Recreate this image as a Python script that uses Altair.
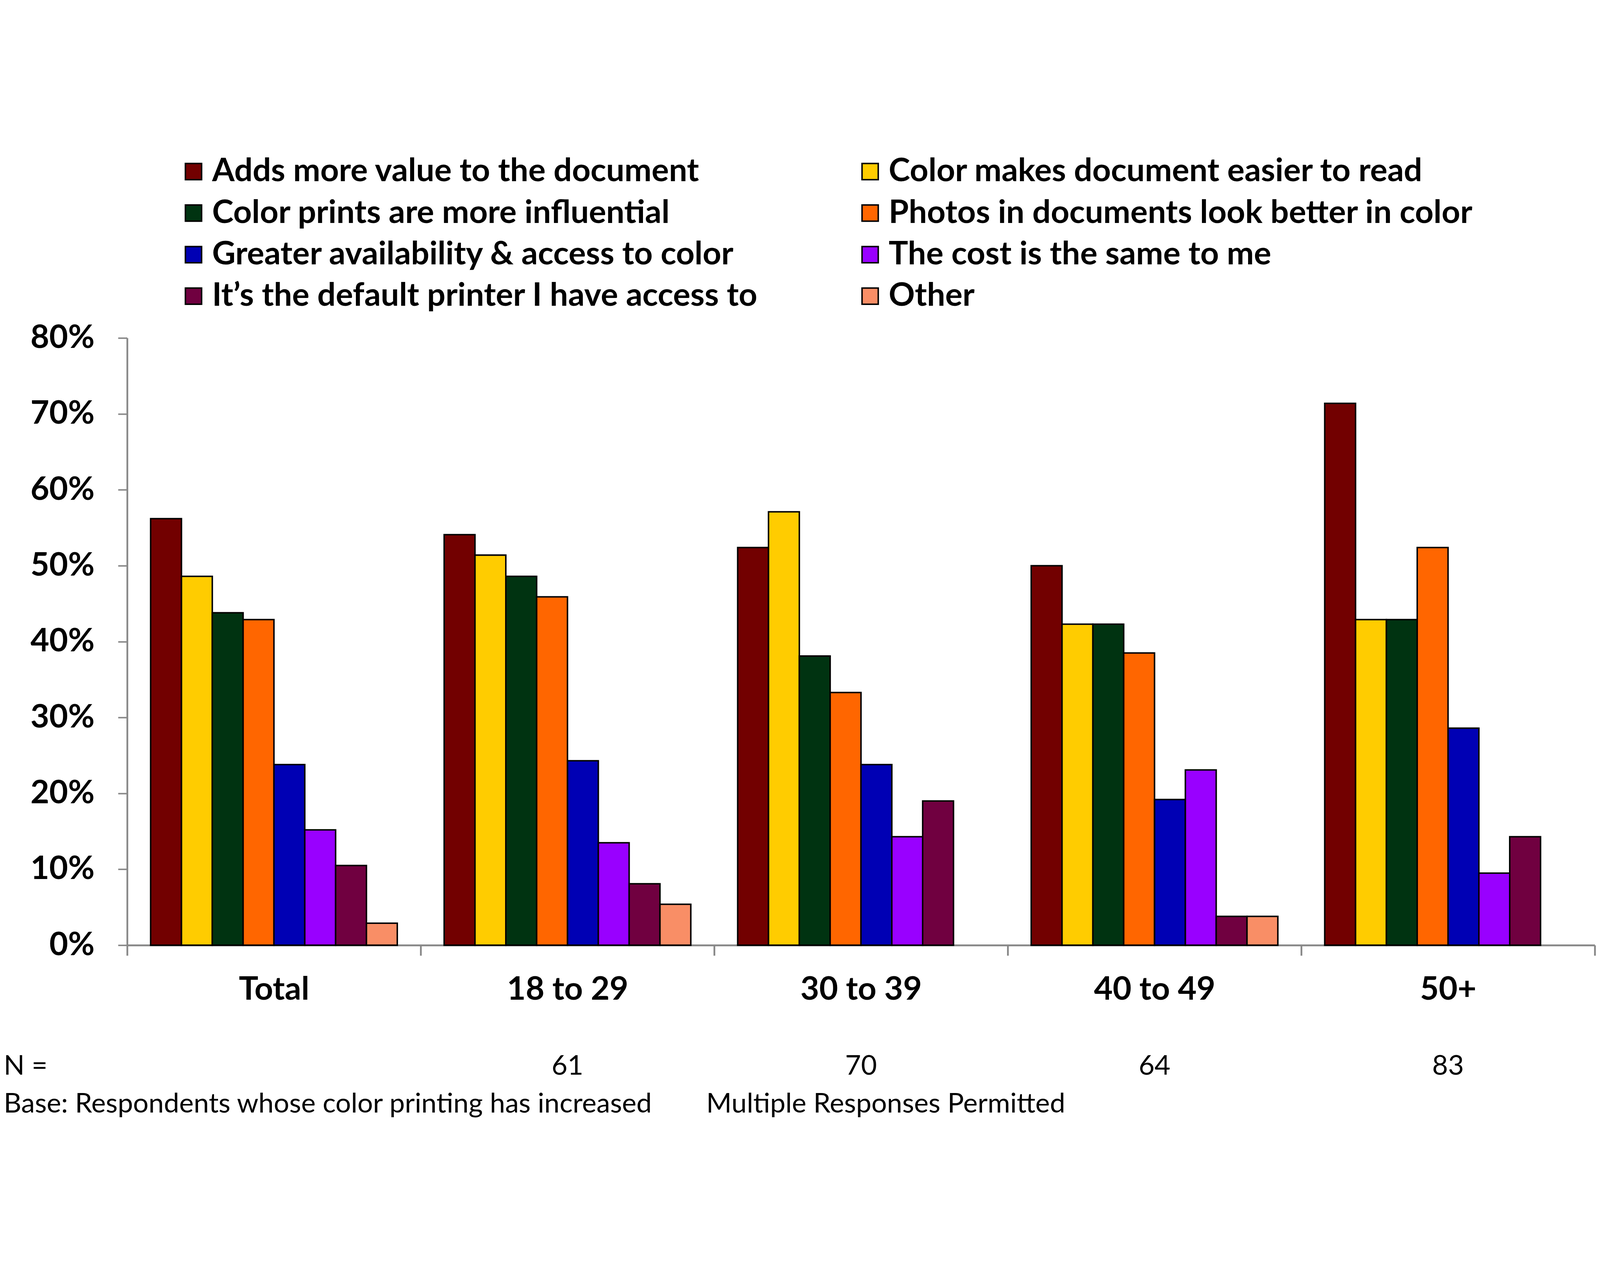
import altair as alt
import pandas as pd

categories = ["Total", "18 to 29", "30 to 39", "40 to 49", "50+"]
series = [
    "Adds more value to the document",
    "Color makes document easier to read",
    "Color prints are more influential",
    "Photos in documents look better in color",
    "Greater availability & access to color",
    "The cost is the same to me",
    "It’s the default printer I have access to",
    "Other",
]
colors = ["#720000", "#FFCC00", "#003311", "#FF6600", "#0000B4", "#9900FF", "#700040", "#F98E66"]

total = [0.562, 0.486, 0.438, 0.429, 0.238, 0.152, 0.105, 0.029]
age_18_29 = [0.541, 0.514, 0.486, 0.459, 0.243, 0.135, 0.081, 0.054]
age_30_39 = [0.524, 0.571, 0.381, 0.333, 0.238, 0.143, 0.190, 0.0]
age_40_49 = [0.500, 0.423, 0.423, 0.385, 0.192, 0.231, 0.038, 0.038]
age_50_plus = [0.714, 0.429, 0.429, 0.524, 0.286, 0.095, 0.143, 0.0]

n_values = ["", "61", "70", "64", "83"]
n_prefix = "N ="
footnote_left = "Base: Respondents whose color printing has increased"
footnote_right = "Multiple Responses Permitted"
y_ticks = [0, 0.1, 0.2, 0.3, 0.4, 0.5, 0.6, 0.7, 0.8]

groups = [total, age_18_29, age_30_39, age_40_49, age_50_plus]
rows = []
for cat, vals in zip(categories, groups):
    for s, v in zip(series, vals):
        rows.append({"category": cat, "series": s, "value": v})
df = pd.DataFrame(rows)
df_n = pd.DataFrame({"category": categories, "n": n_values})

W, H = 4980, 2061
FONT = "Lato"

x_enc = alt.X(
    "category:N",
    sort=categories,
    scale=alt.Scale(domain=categories, paddingInner=0, paddingOuter=0),
    axis=alt.Axis(
        title=None,
        labelAngle=0,
        tickBand="extent",
        labelFont=FONT,
        labelFontWeight="bold",
        labelFontSize=110,
        labelColor="black",
        labelPadding=62,
        labelBaseline="top",
        labelLimit=0,
        tickSize=35,
        tickWidth=6,
        tickColor="#888888",
        domainColor="#888888",
        domainWidth=6,
        grid=False,
    ),
)

bars = (
    alt.Chart(df)
    .transform_filter("datum.value > 0")
    .mark_bar(stroke="black", strokeWidth=5)
    .encode(
        x=x_enc,
        xOffset=alt.XOffset(
            "series:N",
            sort=series,
            scale=alt.Scale(domain=series, paddingInner=0, paddingOuter=0.76),
        ),
        y=alt.Y(
            "value:Q",
            scale=alt.Scale(domain=[0, 0.8], nice=False),
            axis=alt.Axis(
                title=None,
                values=y_ticks,
                format=".0%",
                labelFont=FONT,
                labelFontWeight="bold",
                labelFontSize=110,
                labelColor="black",
                labelPadding=80,
                labelLimit=0,
                tickSize=31,
                tickWidth=5,
                tickColor="#888888",
                domainColor="#888888",
                domainWidth=6,
                grid=False,
            ),
        ),
        color=alt.Color(
            "series:N",
            sort=series,
            scale=alt.Scale(domain=series, range=colors),
            legend=alt.Legend(
                title=None,
                orient="none",
                direction="horizontal",
                legendX=170,
                legendY=-620,
                columns=2,
                columnPadding=325,
                rowPadding=31,
                padding=0,
                symbolType="square",
                symbolSize=3025,
                symbolStrokeColor="black",
                symbolStrokeWidth=5,
                symbolOpacity=1,
                labelFont=FONT,
                labelFontWeight="bold",
                labelFontSize=110,
                labelColor="black",
                labelOffset=8,
                labelLimit=0,
            ),
        ),
    )
)

n_text = (
    alt.Chart(df_n)
    .mark_text(font=FONT, fontSize=93, color="black", baseline="middle", align="center")
    .encode(x=x_enc, y=alt.value(2473), text="n:N")
)

n_label = (
    alt.Chart(pd.DataFrame({"t": [n_prefix]}))
    .mark_text(font=FONT, fontSize=93, color="black", baseline="middle", align="left")
    .encode(x=alt.value(-419), y=alt.value(2473), text="t:N")
)

note_left = (
    alt.Chart(pd.DataFrame({"t": [footnote_left]}))
    .mark_text(font=FONT, fontSize=93, color="black", baseline="middle", align="left")
    .encode(x=alt.value(-419), y=alt.value(2601), text="t:N")
)

note_right = (
    alt.Chart(pd.DataFrame({"t": [footnote_right]}))
    .mark_text(font=FONT, fontSize=93, color="black", baseline="middle", align="left")
    .encode(x=alt.value(1965), y=alt.value(2601), text="t:N")
)

chart = (
    alt.layer(bars, n_text, n_label, note_left, note_right)
    .properties(
        width=W,
        height=H,
        autosize=alt.AutoSizeParams(type="none"),
        padding={"left": 421, "top": 608, "right": 7, "bottom": 580},
        background="white",
    )
    .configure_view(stroke=None)
)

chart.save("out.html", embed_options={"renderer": "svg", "actions": False})
